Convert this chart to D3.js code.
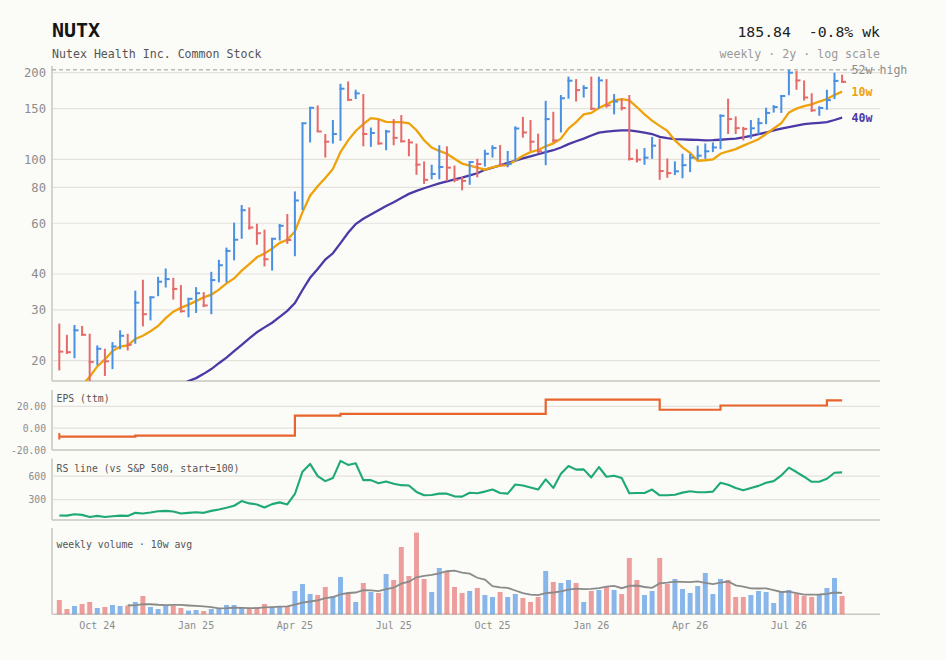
<!DOCTYPE html>
<html>
<head>
<meta charset="utf-8">
<script src="https://cdn.jsdelivr.net/npm/d3@7"></script>
<style>
  body { margin: 0; background: #fbfbf8; }
  svg text { font-family: "DejaVu Sans Mono", monospace; }
</style>
</head>
<body>
<div id="chart"></div>
<script>
// ---- data (weekly bars, Friday week dates) ----
const ticker = "NUTX";
const companyName = "Nutex Health Inc. Common Stock";
const firstWeek = "2024-08-30";
const prevClose = 22.6; // close of the week before the window

const highs = [26.9, 24.6, 26.6, 26.4, 24.8, 22.6, 22.0, 23.2, 25.5, 24.8,
  35.0, 38.2, 33.4, 39.1, 41.8, 38.8, 36.6, 33.0, 36.0, 34.6,
  40.7, 44.8, 49.4, 60.3, 69.4, 68.1, 59.8, 57.0, 53.4, 59.7,
  64.6, 77.4, 134, 152.3, 154, 122.5, 137, 183, 186.5, 174.5,
  168.6, 129, 137, 126.6, 138, 142.5, 117.8, 113.5, 98.4, 95.8,
  112, 111, 95.2, 86.9, 98.4, 100.5, 108, 112, 112.2, 107,
  130.3, 140.5, 137, 122.8, 159.7, 146.3, 167.3, 193.8, 190, 181,
  193.8, 193.8, 190, 168.6, 162.5, 167.3, 108.5, 109.5, 119.7, 118,
  100.7, 98.4, 104.6, 104.6, 111.6, 113.6, 114.5, 143.3, 162.5, 141,
  129.7, 137, 139.3, 151.2, 154.2, 167, 204.6, 203, 188, 169.7,
  153, 174.5, 200, 196.8];

const lows = [18.5, 21.1, 20.4, 24.4, 17.0, 19.3, 17.7, 18.7, 21.9, 21.7,
  22.9, 26.3, 27.6, 33.5, 35.9, 32.6, 29.4, 28.3, 29.3, 30.7,
  29.0, 37.4, 37.4, 44.6, 53.0, 57.0, 50.5, 42.5, 41.1, 52.3,
  50.9, 46.1, 66.7, 114.5, 125, 101.5, 113.5, 116, 159.7, 162,
  111, 110.5, 112.5, 107.6, 112, 114.5, 102.5, 88.4, 82.2, 85.3,
  85.3, 84.2, 83.3, 78.1, 81.6, 86.6, 94.4, 101.5, 95.5, 93.9,
  98.4, 119, 107, 105.3, 95.5, 114.5, 124, 162.5, 158.8, 164,
  148.6, 150, 151.2, 143.3, 148, 99.1, 97.5, 95.8, 100.5, 84.9,
  86.3, 88.2, 86, 90.3, 99.7, 100.4, 106, 108.5, 122.5, 122.5,
  116.4, 118, 122, 132.5, 145.4, 145, 167, 174.5, 160, 146.3,
  141.7, 148.6, 162, 184.5];

const closes = [21.5, 21.4, 25.5, 24.6, 19.8, 22.0, 19.9, 22.4, 24.4, 22.7,
  31.8, 29.0, 33.2, 37.6, 38.4, 35.5, 29.7, 32.8, 34.3, 31.1,
  38.1, 42.9, 48.1, 52.6, 66.6, 58.0, 55.4, 45.0, 53.0, 58.8,
  52.5, 72.0, 133.5, 151, 125, 115.2, 122.5, 176, 161, 169.5,
  122.5, 123.5, 113.6, 125, 118.8, 115.6, 114.5, 95.9, 84.9, 89.0,
  94.1, 93.6, 84.9, 84.2, 97.9, 96.3, 104.6, 109.5, 96.0, 96.5,
  128, 124, 115.2, 106.7, 138, 116.4, 163, 187.6, 174, 177,
  150, 188, 154, 158.8, 150.8, 100.4, 99.8, 101.4, 111.6, 91.1,
  89.6, 90.9, 95.5, 101.4, 103, 106.7, 110, 141.7, 138, 128.4,
  127.6, 128.2, 133.6, 145, 152, 166, 200, 188, 164, 148,
  150.8, 160.6, 187.3, 185.84];

const ma10 = [15.2, 15.6, 16.0, 16.4, 17.6, 19.1, 20.2, 21.6, 22.4, 22.6,
  23.8, 24.4, 25.3, 26.4, 28.1, 29.6, 30.5, 31.3, 32.2, 33.2,
  33.9, 35.3, 37.1, 38.6, 41.1, 43.3, 45.7, 47.1, 49.0, 51.3,
  52.6, 56.2, 65.6, 74.8, 80.7, 86.2, 92.6, 106, 116.4, 125.5,
  132.5, 139, 138, 135, 134.7, 134.7, 133.5, 126.3, 116.5, 110,
  107, 104.6, 100.5, 96.7, 95.2, 93.6, 92.1, 93.9, 95.1, 95.5,
  99.1, 103, 106, 107.8, 111, 113.6, 118, 128, 134.7, 143.3,
  145, 150.8, 155.2, 160.3, 162, 160.3, 152, 143.3, 136.3, 130.7,
  125.6, 116.4, 110, 105.3, 98.9, 99.3, 100, 104.6, 106.7, 108.6,
  111.6, 114.5, 117.5, 122.5, 128, 133.6, 145.4, 150, 153, 155.2,
  158.8, 162, 167.3, 171.9];

const ma40 = [11.5, 11.7, 11.9, 12.1, 12.3, 12.5, 12.8, 13.1, 13.4, 13.7,
  14.0, 14.4, 14.8, 15.2, 15.6, 16.0, 16.5, 17.0, 17.4, 18.0,
  18.7, 19.6, 20.5, 21.6, 22.7, 23.9, 25.1, 26.1, 27.1, 28.4,
  29.8, 31.7, 35.2, 38.8, 41.6, 44.9, 47.2, 51.2, 55.6, 59.6,
  62.2, 64.4, 66.6, 68.9, 71.0, 73.4, 75.9, 77.7, 79.4, 81.0,
  82.6, 83.8, 85.2, 86.5, 88.0, 89.5, 92.0, 93.7, 95.4, 97.2,
  99.0, 100.8, 102.5, 104.2, 105.9, 107.6, 110.0, 113.0, 115.6, 118.0,
  121.0, 123.8, 124.8, 125.5, 126.1, 126.1, 125.2, 123.8, 122.5, 119.8,
  118.6, 117.6, 117.3, 117.0, 116.8, 116.5, 116.6, 117.0, 117.5, 118.0,
  119.3, 120.8, 122.3, 124.0, 126.2, 128.0, 129.5, 131.0, 132.5, 133.3,
  134.0, 134.7, 137.0, 139.6];

// weekly volume, thousands of shares
const volumes = [286, 106, 166, 206, 246, 126, 146, 186, 166, 174,
  246, 366, 146, 106, 180, 174, 126, 74, 86, 66,
  106, 126, 186, 186, 146, 126, 146, 206, 146, 146,
  166, 466, 606, 406, 386, 546, 366, 746, 426, 246,
  626, 446, 426, 806, 686, 1346, 766, 1634, 706, 446,
  926, 866, 546, 426, 466, 526, 386, 346, 446, 346,
  406, 326, 246, 346, 866, 646, 626, 686, 626, 246,
  466, 486, 546, 486, 406, 1126, 686, 386, 466, 1126,
  606, 706, 506, 426, 566, 826, 406, 706, 686, 346,
  346, 386, 466, 446, 226, 446, 486, 406, 366, 346,
  386, 526, 726, 366];

// trailing EPS: week index where each new value starts
const epsFromWeek = [0, 10, 31, 37, 64, 79, 87, 101];
const epsValues = [-7.7, -6.8, 11.6, 13.2, 26.1, 16.9, 20.8, 25.4];

// relative strength line vs S&P 500 (start = 100)
const rsLine = [100, 98, 115, 107, 81, 94, 81, 90, 98, 94,
  133, 124, 137, 154, 158, 150, 124, 133, 141, 133,
  158, 176, 197, 223, 283, 253, 240, 201, 244, 266,
  240, 373, 656, 755, 600, 536, 575, 794, 742, 764,
  549, 549, 510, 532, 502, 485, 480, 399, 356, 360,
  377, 377, 343, 339, 388, 382, 403, 429, 386, 377,
  493, 480, 455, 429, 558, 450, 630, 729, 682, 686,
  583, 716, 592, 605, 575, 382, 386, 386, 429, 356,
  356, 364, 390, 407, 394, 394, 403, 515, 489, 450,
  420, 450, 476, 515, 536, 609, 708, 652, 592, 528,
  528, 566, 643, 648];

const priceTicks = [20, 30, 40, 60, 80, 100, 150, 200];
const epsTicks = [-20, 0, 20];
const rsTicks = [300, 600];
const quarterStarts = ["2024-10-01", "2025-01-01", "2025-04-01", "2025-07-01",
  "2025-10-01", "2026-01-01", "2026-04-01", "2026-07-01"];
const quarterLabels = ["Oct 24", "Jan 25", "Apr 25", "Jul 25", "Oct 25", "Jan 26", "Apr 26", "Jul 26"];

const upColor = "#4a90e2";
const downColor = "#e56a6a";

function init() {
    var w = 946;
    var h = 660;
    var left = 52;
    var right = 880;
    var font = "DejaVu Sans Mono, monospace";

    var svg = d3.select("#chart").append("svg")
        .attr("width", w)
        .attr("height", h);

    svg.append("rect").attr("width", w).attr("height", h).attr("fill", "#fbfbf8");

    const parse = d3.timeParse("%Y-%m-%d");
    const start = parse(firstWeek);
    const weeks = closes.map((c, i) => d3.timeDay.offset(start, 7 * i));
    const idx = d3.range(closes.length);
    const n = closes.length;
    const isUp = idx.map(i => closes[i] >= (i ? closes[i - 1] : prevClose));

    var x = d3.scaleBand().domain(idx).range([55.5, 845.9]).paddingInner(0.35).paddingOuter(0.175);
    const cx = i => x(i) + x.bandwidth() / 2;

    // panels
    var panels = {
        price: [66, 381],
        eps: [390, 450],
        rs: [458.5, 520],
        vol: [528, 614.3]
    };

    var y = d3.scaleLog().domain([17, 211]).range([panels.price[1], panels.price[0]]);
    var yEps = d3.scaleLinear().domain([-20, 35]).range([panels.eps[1], panels.eps[0]]);
    var yRs = d3.scaleLinear().domain([42, 824]).range([panels.rs[1], panels.rs[0]]);
    var yVol = d3.scaleLinear().domain([0, d3.max(volumes) * 1.056]).range([panels.vol[1], panels.vol[0]]);

    // header
    svg.append("text").attr("x", left).attr("y", 36.5)
        .style("font-size", "20px").style("font-weight", "bold").attr("fill", "#151515")
        .text(ticker);
    svg.append("text").attr("x", left).attr("y", 57.5)
        .style("font-size", "11.6px").attr("fill", "#555")
        .text(companyName);
    const last = closes[n - 1];
    const chg = (last / closes[n - 2] - 1) * 100;
    svg.append("text").attr("x", right).attr("y", 36.5).attr("text-anchor", "end")
        .style("font-size", "14.8px").style("white-space", "pre").attr("fill", "#222")
        .text(`${last.toFixed(2)}  ${chg.toFixed(1)}% wk`);
    svg.append("text").attr("x", right).attr("y", 57.5).attr("text-anchor", "end")
        .style("font-size", "11.6px").attr("fill", "#999")
        .text("weekly \u00b7 2y \u00b7 log scale");

    // gridlines
    function grid(scale, ticks) {
        svg.append("g").selectAll("line").data(ticks).join("line")
            .attr("x1", left).attr("x2", right)
            .attr("y1", d => scale(d)).attr("y2", d => scale(d))
            .attr("stroke", "#e4e2db").attr("stroke-width", 1.2);
    }
    grid(y, priceTicks);
    grid(yEps, epsTicks.filter(d => d > -20));
    grid(yRs, rsTicks);

    // y axes
    function yAxis(scale, ticks, fmt, size) {
        svg.append("g").attr("transform", `translate(${left},0)`)
            .call(d3.axisLeft(scale).tickValues(ticks).tickFormat(fmt).tickSize(0).tickPadding(6))
            .call(g => g.select(".domain").remove())
            .attr("font-family", font).attr("font-size", size).attr("color", "#8c8c8c");
    }
    yAxis(y, priceTicks, d3.format("d"), 12.2);
    yAxis(yEps, epsTicks, d => d.toFixed(2), 9.7);
    yAxis(yRs, rsTicks, d3.format("d"), 9.7);

    // panel frames (left + bottom)
    Object.values(panels).forEach(p => {
        svg.append("line").attr("x1", left).attr("x2", left).attr("y1", p[0]).attr("y2", p[1])
            .attr("stroke", "#c9c7be").attr("stroke-width", 1.5);
        svg.append("line").attr("x1", left).attr("x2", right).attr("y1", p[1]).attr("y2", p[1])
            .attr("stroke", "#c9c7be").attr("stroke-width", 1.5);
    });

    // price panel clip
    svg.append("clipPath").attr("id", "clipPrice").append("rect")
        .attr("x", left).attr("y", panels.price[0])
        .attr("width", right - left).attr("height", panels.price[1] - panels.price[0]);

    // 52w high
    const high52 = d3.max(highs.slice(-52));
    svg.append("line").attr("x1", left).attr("x2", right)
        .attr("y1", y(high52)).attr("y2", y(high52))
        .attr("stroke", "#999").attr("stroke-width", 1).attr("stroke-dasharray", "4,3");

    var price = svg.append("g").attr("clip-path", "url(#clipPrice)");

    // moving averages
    var maLine = d3.line().x((d, i) => cx(i)).y(d => y(d));
    price.append("path").datum(ma40).attr("d", maLine)
        .attr("fill", "none").attr("stroke", "#4b3aa5").attr("stroke-width", 2.3);
    price.append("path").datum(ma10).attr("d", maLine)
        .attr("fill", "none").attr("stroke", "#eea20c").attr("stroke-width", 2.3);

    // HLC bars
    var bars = price.append("g").selectAll("g").data(idx).join("g")
        .attr("stroke", i => isUp[i] ? upColor : downColor)
        .attr("stroke-width", 2);
    bars.append("line")
        .attr("x1", i => cx(i)).attr("x2", i => cx(i))
        .attr("y1", i => y(highs[i])).attr("y2", i => y(lows[i]));
    bars.append("line")
        .attr("x1", i => cx(i) - 1).attr("x2", i => cx(i) + 4)
        .attr("y1", i => y(closes[i])).attr("y2", i => y(closes[i]));

    // right labels
    svg.append("text").attr("x", 851.5).attr("y", y(high52)).attr("dy", "0.35em")
        .style("font-size", "11.6px").attr("fill", "#8c8c8c").text("52w high");
    svg.append("text").attr("x", 851.5).attr("y", y(ma10[n - 1])).attr("dy", "0.35em")
        .style("font-size", "11.6px").style("font-weight", "bold").attr("fill", "#eea20c").text("10w");
    svg.append("text").attr("x", 851.5).attr("y", y(ma40[n - 1])).attr("dy", "0.35em")
        .style("font-size", "11.6px").style("font-weight", "bold").attr("fill", "#4b3aa5").text("40w");

    // EPS step line
    const epsWeekly = idx.map(i => epsValues[d3.bisectRight(epsFromWeek, i) - 1]);
    svg.append("path").datum(epsWeekly)
        .attr("d", d3.line().x((d, i) => cx(i)).y(d => yEps(d)).curve(d3.curveStepAfter))
        .attr("fill", "none").attr("stroke", "#e8642c").attr("stroke-width", 2.2);
    svg.append("line").attr("x1", cx(0)).attr("x2", cx(0))
        .attr("y1", yEps(epsWeekly[0]) - 3.5).attr("y2", yEps(epsWeekly[0]) + 3)
        .attr("stroke", "#e8642c").attr("stroke-width", 2);

    // RS line
    svg.append("path").datum(rsLine)
        .attr("d", d3.line().x((d, i) => cx(i)).y(d => yRs(d)))
        .attr("fill", "none").attr("stroke", "#1fa974").attr("stroke-width", 2.1)
        .attr("stroke-linejoin", "round");

    // volume
    svg.append("g").selectAll("rect").data(idx).join("rect")
        .attr("x", i => x(i)).attr("width", x.bandwidth())
        .attr("y", i => yVol(volumes[i])).attr("height", i => yVol(0) - yVol(volumes[i]))
        .attr("fill", i => isUp[i] ? upColor : downColor).attr("fill-opacity", 0.65);

    const volAvg = idx.map(i => i < 9 ? null : d3.mean(volumes.slice(i - 9, i + 1)));
    svg.append("path").datum(volAvg)
        .attr("d", d3.line().defined(d => d != null).x((d, i) => cx(i)).y(d => yVol(d)))
        .attr("fill", "none").attr("stroke", "#8a8a8a").attr("stroke-width", 1.8);

    // panel titles
    const titles = [["EPS (ttm)", 401.5], ["RS line (vs S&P 500, start=100)", 471.5], ["weekly volume \u00b7 10w avg", 547.5]];
    titles.forEach(t => {
        svg.append("text").attr("x", 56.5).attr("y", t[1])
            .style("font-size", "9.8px").attr("fill", "#555").text(t[0]);
    });

    // x axis (first week of each quarter)
    const tickIdx = quarterStarts.map(s => d3.bisectLeft(weeks, parse(s)));
    svg.append("g").attr("transform", `translate(0,${panels.vol[1]})`)
        .call(d3.axisBottom(x).tickValues(tickIdx)
            .tickFormat((d, k) => quarterLabels[k]).tickSize(0).tickPadding(8))
        .call(g => g.select(".domain").remove())
        .attr("font-family", font).attr("font-size", 10).attr("color", "#8c8c8c");
}

window.onload = init;
</script>
</body>
</html>
